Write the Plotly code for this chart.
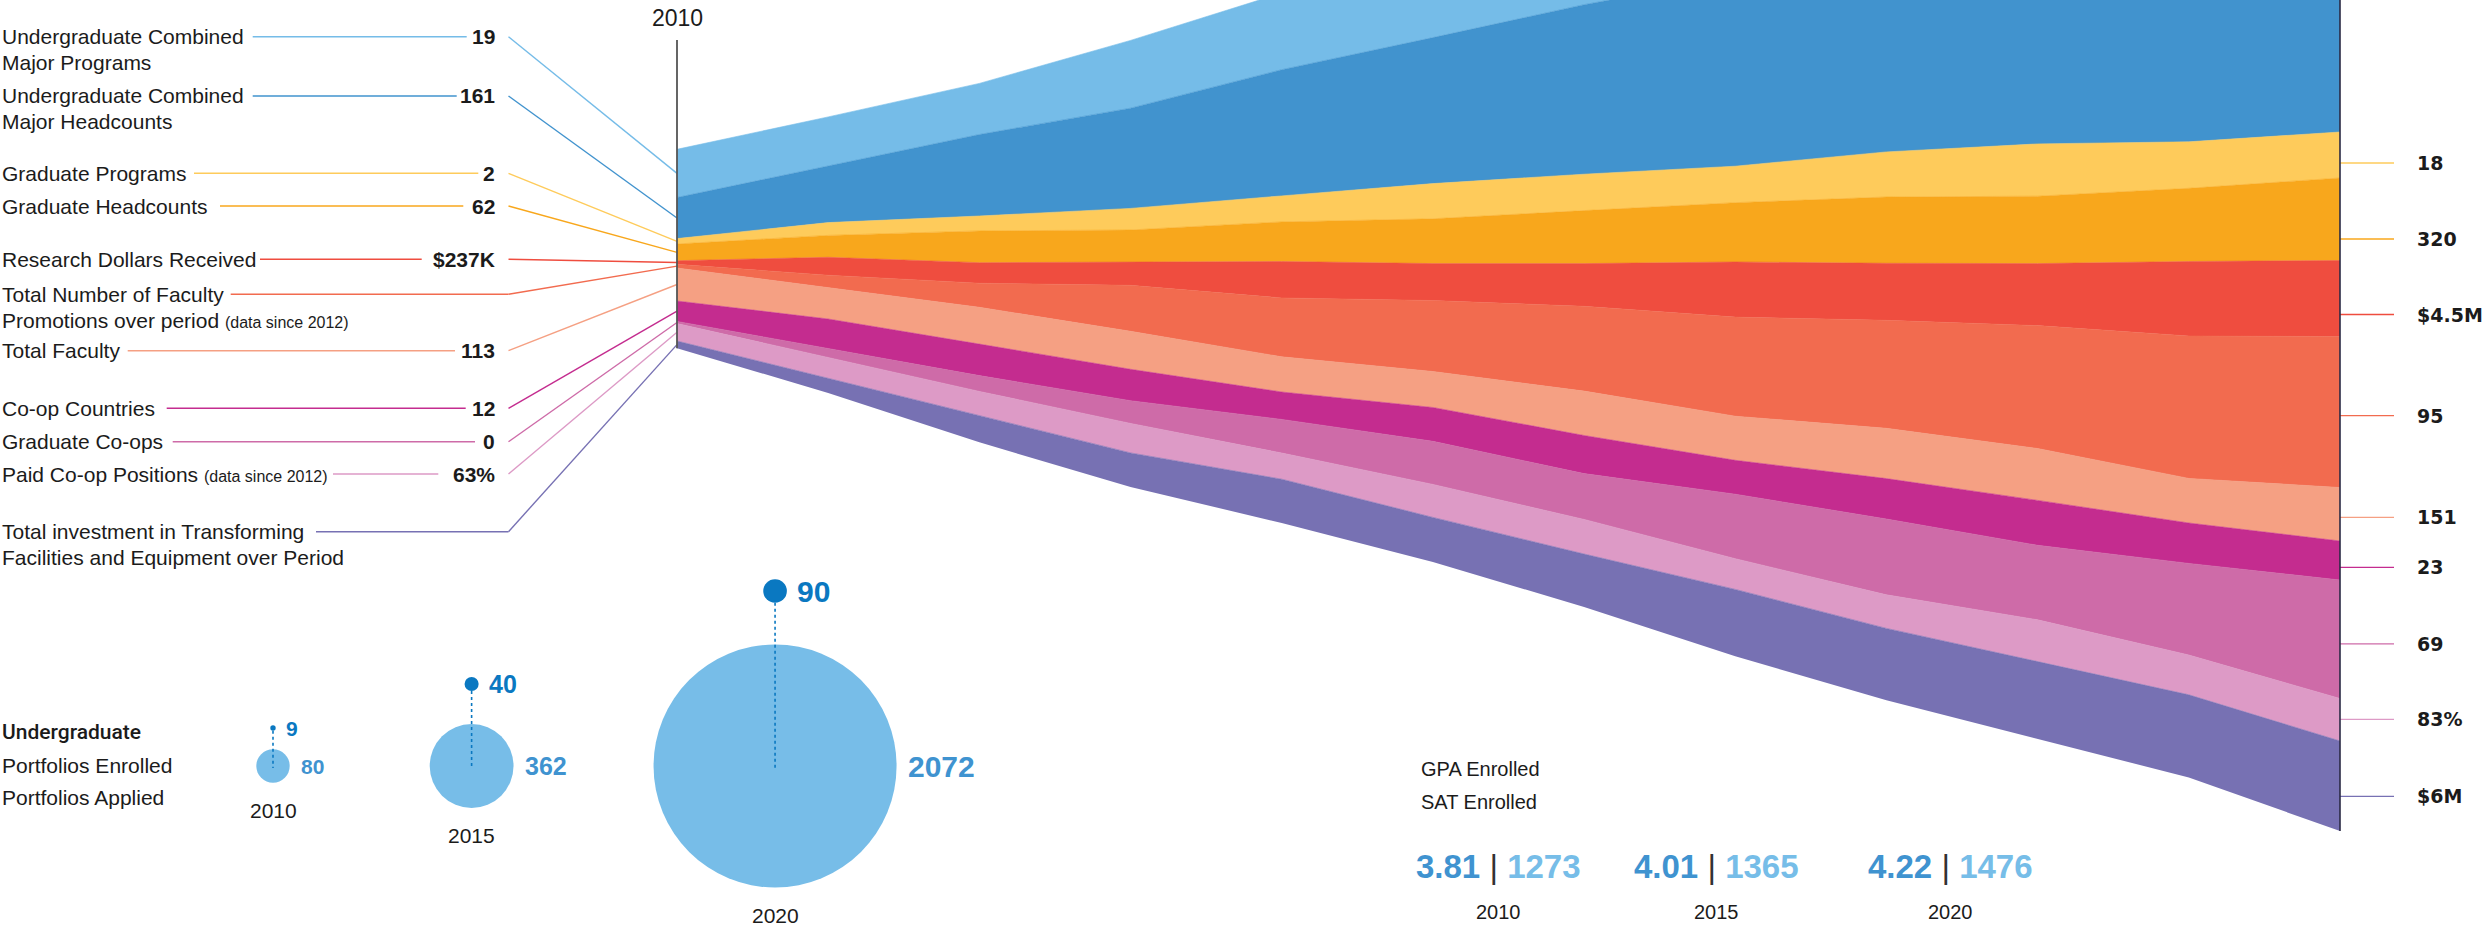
import plotly.graph_objects as go

W, H = 2486, 928

# ---------------- data ----------------
years = list(range(2010, 2022))
# lower edge of the stream (chart units) and band thickness of each series per year
baseline = [115.8, 71.1, 21.7, -23.0, -59.0, -98.0, -143.0, -192.3, -236.2, -274.9, -313.5, -367.0]
ug_programs = [48.2, 49.1, 51.1, 67.8, 76.7, 92.6, 104.7, 117.0, 125.0, 130.0, 137.0, 140.0]
ug_headcounts = [41.1, 56.6, 81.5, 100.2, 126.2, 146.0, 169.5, 189.2, 201.9, 218.9, 239.8, 252.0]
grad_programs = [5.4, 12.8, 14.9, 21.6, 26.0, 35.2, 36.4, 36.5, 45.1, 52.3, 46.5, 46.0]
grad_headcounts = [16.7, 21.9, 31.8, 32.4, 39.6, 44.8, 53.0, 59.3, 66.3, 67.4, 73.2, 82.5]
research_dollars = [3.6, 17.9, 20.5, 22.9, 36.4, 36.9, 42.7, 55.1, 57.0, 62.0, 74.5, 76.0]
faculty_promotions = [3.7, 12.4, 24.1, 46.0, 58.9, 71.0, 84.8, 99.1, 108.0, 122.9, 142.4, 151.0]
total_faculty = [33.0, 31.4, 36.8, 38.0, 35.2, 36.0, 44.4, 44.1, 50.3, 51.9, 44.6, 53.5]
coop_countries = [20.4, 29.5, 31.5, 31.4, 27.4, 33.8, 38.1, 33.9, 40.4, 44.9, 40.4, 39.0]
grad_coops = [2.2, 9.0, 15.8, 22.7, 33.6, 43.1, 45.8, 64.5, 75.8, 74.5, 91.6, 118.5]
paid_coops = [17.4, 21.0, 24.5, 29.5, 26.2, 33.0, 34.6, 30.7, 33.6, 42.0, 39.8, 42.5]
facilities_investment = [7.2, 14.4, 26.4, 34.1, 43.8, 44.6, 53.0, 66.9, 71.8, 77.1, 82.7, 90.0]

series_labels = [
    ["Undergraduate Combined", "Major Programs"],
    ["Undergraduate Combined", "Major Headcounts"],
    ["Graduate Programs"],
    ["Graduate Headcounts"],
    ["Research Dollars Received"],
    ["Total Number of Faculty",
     "Promotions over period <span style='font-size:16px'>(data since 2012)</span>"],
    ["Total Faculty"],
    ["Co-op Countries"],
    ["Graduate Co-ops"],
    ["Paid Co-op Positions <span style='font-size:16px'>(data since 2012)</span>"],
    ["Total investment in Transforming", "Facilities and Equipment over Period"],
]
start_values = ["19", "161", "2", "62", "$237K", "", "113", "12", "0", "63%", ""]
end_values = ["", "", "18", "320", "$4.5M", "95", "151", "23", "69", "83%", "$6M"]

portfolio_years = ["2010", "2015", "2020"]
portfolios_applied = [80, 362, 2072]
portfolios_enrolled = [9, 40, 90]

score_years = ["2010", "2015", "2020"]
gpa_enrolled = [3.81, 4.01, 4.22]
sat_enrolled = [1273, 1365, 1476]

# ---------------- styling / layout constants ----------------
series_top_down = [ug_programs, ug_headcounts, grad_programs, grad_headcounts, research_dollars,
                   faculty_promotions, total_faculty, coop_countries, grad_coops, paid_coops,
                   facilities_investment]
colors = ["#75BCE8", "#4193CE", "#FECB5B", "#F8A71C", "#EF4D3F", "#F26B4F", "#F5A083",
          "#C42C8F", "#CE6BA8", "#DD9AC6", "#7771B3"]

FONT = "Liberation Sans"
TXT = "#1b1b1b"

AX_L_PX, AX_R_PX = 677, 2340
px_per_year = (AX_R_PX - AX_L_PX) / (years[-1] - years[0])
X_RANGE = [years[0] - AX_L_PX / px_per_year, years[0] + (W - AX_L_PX) / px_per_year]
Y_RANGE = [-H / 2, H / 2]


def px_x(p):
    return X_RANGE[0] + p / W * (X_RANGE[1] - X_RANGE[0])


def px_y(p):
    return Y_RANGE[1] - p / H * (Y_RANGE[1] - Y_RANGE[0])


row_y = [36.7, 96, 173.3, 206, 259.3, 294.3, 350.7, 408.3, 441.7, 474, 531.7]
line_start = [252.7, 252.7, 194, 220, 260, 230.7, 127.7, 166.7, 172.7, 333, 316]
line_end = [466.7, 456.7, 478.3, 463.3, 421.7, 508.5, 455, 465.7, 475, 438.3, 508.5]
DIAG_START = 508.5
NUM_RIGHT = 496.7
LINE2 = 25.7
end_label_y = [None, None, 163, 239, 314.5, 415.7, 517.4, 567.3, 643.8, 719.4, 796.4]

fig = go.Figure()

# ---------------- stream ----------------
bottom_up = list(reversed(series_top_down))
colors_bu = list(reversed(colors))
bounds = [baseline]
for s in bottom_up:
    bounds.append([b + v for b, v in zip(bounds[-1], s)])

fig.add_trace(go.Scatter(x=years, y=baseline, mode="lines", line=dict(width=0), hoverinfo="skip"))
for k, s in enumerate(bottom_up):
    fig.add_trace(go.Scatter(x=years, y=bounds[k + 1], mode="lines", fill="tonexty",
                             fillcolor=colors_bu[k], line=dict(width=0.6, color=colors_bu[k]),
                             hoverinfo="skip"))

n = len(series_top_down)
annotations = []


def ann(text, xp, yp, size, color=TXT, family=FONT, xanchor="left", yanchor="middle",
        xref="paper", yref="paper", weight="normal"):
    if xref == "paper":
        xp = xp / W
    if yref == "paper":
        yp = 1 - yp / H
    annotations.append(dict(text=text, x=xp, y=yp, xref=xref, yref=yref, showarrow=False,
                            xanchor=xanchor, yanchor=yanchor,
                            font=dict(family=family, size=size, color=color, weight=weight)))


# leader lines + left labels
for i in range(n):
    k = n - 1 - i
    mid = (bounds[k][0] + bounds[k + 1][0]) / 2
    yv = px_y(row_y[i])
    fig.add_trace(go.Scatter(
        x=[px_x(line_start[i]), px_x(line_end[i]), None, px_x(DIAG_START), years[0]],
        y=[yv, yv, None, yv, mid], mode="lines",
        line=dict(color=colors[i], width=1.4), hoverinfo="skip"))
    for j, t in enumerate(series_labels[i]):
        ann(t, 0, row_y[i] + j * LINE2, 21)
    if start_values[i]:
        ann(start_values[i], NUM_RIGHT, row_y[i], 21, xanchor="right", weight="bold")
    if end_values[i]:
        ey = px_y(end_label_y[i])
        fig.add_trace(go.Scatter(x=[years[-1], px_x(2394)], y=[ey, ey], mode="lines",
                                 line=dict(color=colors[i], width=1.3), hoverinfo="skip"))
        ann(end_values[i], 2415, end_label_y[i], 19, family="DejaVu Sans", weight="bold")

# axes lines at start and end year
fig.add_trace(go.Scatter(x=[years[0], years[0]], y=[baseline[0], px_y(40)], mode="lines",
                         line=dict(color="#555555", width=1.8), hoverinfo="skip"))
fig.add_trace(go.Scatter(x=[years[-1], years[-1]], y=[baseline[-1], Y_RANGE[1]], mode="lines",
                         line=dict(color="#2a2a44", width=1.6), hoverinfo="skip"))
ann(str(years[0]), AX_L_PX, 18, 23, xanchor="center")

# ---------------- portfolio bubbles ----------------
BUBBLE_X0, BUBBLE_GAP, BUBBLE_CY = 273, 140, 766
DOT_LIFT = [38, 82, 175]
LABEL_SIZES = [21, 25, 30]
d_app = [2.305 * v ** 0.61 for v in portfolios_applied]
d_enr = [1.326 * v ** 0.64 for v in portfolios_enrolled]
cx = [BUBBLE_X0]
for i in range(1, len(d_app)):
    cx.append(cx[-1] + d_app[i - 1] / 2 + BUBBLE_GAP + d_app[i] / 2)
dot_y = [BUBBLE_CY - l for l in DOT_LIFT]

fig.add_trace(go.Scatter(x=cx, y=[BUBBLE_CY] * 3, mode="markers", xaxis="x2", yaxis="y2",
                         marker=dict(size=d_app, color="#77BDE8", opacity=1, line=dict(width=0)),
                         hoverinfo="skip"))
for i in range(3):
    fig.add_trace(go.Scatter(x=[cx[i], cx[i]], y=[dot_y[i] + d_enr[i] / 2, BUBBLE_CY + 2],
                             mode="lines", xaxis="x2", yaxis="y2",
                             line=dict(color="#0A78C1", width=1.6, dash="dot"), hoverinfo="skip"))
fig.add_trace(go.Scatter(x=cx, y=dot_y, mode="markers", xaxis="x2", yaxis="y2",
                         marker=dict(size=d_enr, color="#0A78C1", opacity=1, line=dict(width=0)),
                         hoverinfo="skip"))
for i in range(3):
    ann(f"{portfolios_applied[i]}", cx[i] + d_app[i] / 2 + 9, BUBBLE_CY, LABEL_SIZES[i],
        color="#3F93D0", weight="bold")
    ann(f"{portfolios_enrolled[i]}", cx[i] + d_enr[i] / 2 + 8, dot_y[i], LABEL_SIZES[i],
        color="#0A78C1", weight="bold")
    ann(portfolio_years[i], cx[i], BUBBLE_CY + d_app[i] / 2 + 28, 21, xanchor="center")

ann("Undergraduate", 0, 732, 21, family="Roboto", weight=500)
ann("Portfolios Enrolled", 0, 765, 21)
ann("Portfolios Applied", 0, 797, 21)

# ---------------- GPA / SAT ----------------
SCORE_X = [1498, 1716, 1950]
ann("GPA Enrolled", 1419, 769, 20)
ann("SAT Enrolled", 1419, 802, 20)
for i in range(3):
    txt = (f"<b><span style='color:#3F93D0'>{gpa_enrolled[i]:.2f}</span></b>"
           f"<span style='color:#333333'> | </span>"
           f"<b><span style='color:#76BDE8'>{sat_enrolled[i]}</span></b>")
    ann(txt, SCORE_X[i], 866, 33, xanchor="center")
    ann(score_years[i], SCORE_X[i], 912, 20, xanchor="center")

fig.update_layout(
    width=W, height=H, margin=dict(l=0, r=0, t=0, b=0),
    paper_bgcolor="white", plot_bgcolor="white", showlegend=False, hovermode=False,
    xaxis=dict(range=X_RANGE, visible=False, fixedrange=True),
    yaxis=dict(range=Y_RANGE, visible=False, fixedrange=True),
    xaxis2=dict(range=[0, W], visible=False, overlaying="x", anchor="y2", fixedrange=True),
    yaxis2=dict(range=[H, 0], visible=False, overlaying="y", anchor="x2", fixedrange=True),
    annotations=annotations,
)

fig.write_html("out.html", config={"displayModeBar": False},
               post_script="document.body.style.margin='0';document.body.style.overflow='hidden';")
